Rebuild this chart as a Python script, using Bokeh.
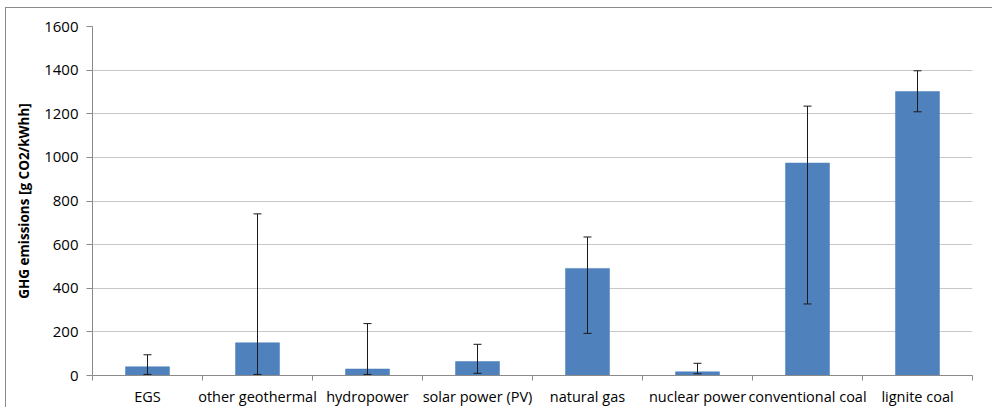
from bokeh.plotting import figure
from bokeh.models import ColumnDataSource, FixedTicker, Whisker, Range1d
from bokeh.embed import file_html
from bokeh.resources import INLINE

# Life-cycle greenhouse gas emissions by generation technology
categories = ["EGS", "other geothermal", "hydropower", "solar power (PV)",
              "natural gas", "nuclear power", "conventional coal", "lignite coal"]
emissions = [40, 150, 30, 64, 491, 17, 974, 1302]
err_low = [5, 5, 5, 10, 193, 8, 328, 1209]
err_high = [95, 741, 238, 143, 635, 56, 1235, 1397]
y_ticks = [0, 200, 400, 600, 800, 1000, 1200, 1400, 1600]

x_pos = [i + 0.5 for i in range(len(categories))]
source = ColumnDataSource(data=dict(x=x_pos, top=emissions, lower=err_low, upper=err_high))

FONT = "Open Sans"

p = figure(width=987, height=400, output_backend="svg", toolbar_location=None,
           x_range=Range1d(0, len(categories)), y_range=Range1d(0, 1600),
           min_border_left=86, min_border_right=21, min_border_top=18, min_border_bottom=20,
           margin=(7, 0, 0, 5),
           styles={"border-left": "1px solid #8a8a8a", "border-top": "1px solid #8a8a8a"})
p.outline_line_color = None
p.background_fill_color = "white"
p.border_fill_color = "white"

p.vbar(x="x", top="top", width=0.4, bottom=0, source=source,
       fill_color="#4F81BD", line_color="#4A7EBB", line_width=0.5)

# error bars drawn above the bars
whisker = Whisker(base="x", lower="lower", upper="upper", source=source,
                  line_color="#1a1a1a", line_width=1, level="overlay")
whisker.upper_head.size = 8
whisker.lower_head.size = 8
whisker.upper_head.line_color = "#1a1a1a"
whisker.lower_head.line_color = "#1a1a1a"
p.add_layout(whisker)

# x axis: labels at category centres, tick marks between categories
xa = p.xaxis[0]
xa.ticker = FixedTicker(ticks=x_pos, minor_ticks=list(range(len(categories) + 1)))
xa.major_label_overrides = {x: c for x, c in zip(x_pos, categories)}
xa.major_tick_out = 0
xa.major_tick_in = 0
xa.minor_tick_out = 5
xa.minor_tick_in = 0
xa.minor_tick_line_color = "#8a8a8a"
xa.axis_line_color = "#8a8a8a"
xa.major_label_text_font = FONT
xa.major_label_text_font_size = "14.5px"
xa.major_label_text_color = "#000000"
xa.major_label_standoff = 6

ya = p.yaxis[0]
ya.ticker = FixedTicker(ticks=y_ticks)
ya.minor_tick_line_color = None
ya.major_tick_out = 6
ya.major_tick_in = 0
ya.major_tick_line_color = "#8a8a8a"
ya.axis_line_color = "#8a8a8a"
ya.major_label_text_font = FONT
ya.major_label_text_font_size = "15px"
ya.major_label_text_color = "#000000"
ya.major_label_standoff = 8
ya.axis_label = "GHG emissions [g CO2/kWhh]"
ya.axis_label_text_font = FONT
ya.axis_label_text_font_style = "bold"
ya.axis_label_text_font_size = "13.5px"
ya.axis_label_text_color = "#000000"
ya.axis_label_standoff = 8

p.xgrid.grid_line_color = None
p.ygrid.grid_line_color = "#c8c8c8"
p.ygrid.grid_line_width = 1

open("out.html", "w").write(file_html(p, INLINE))
